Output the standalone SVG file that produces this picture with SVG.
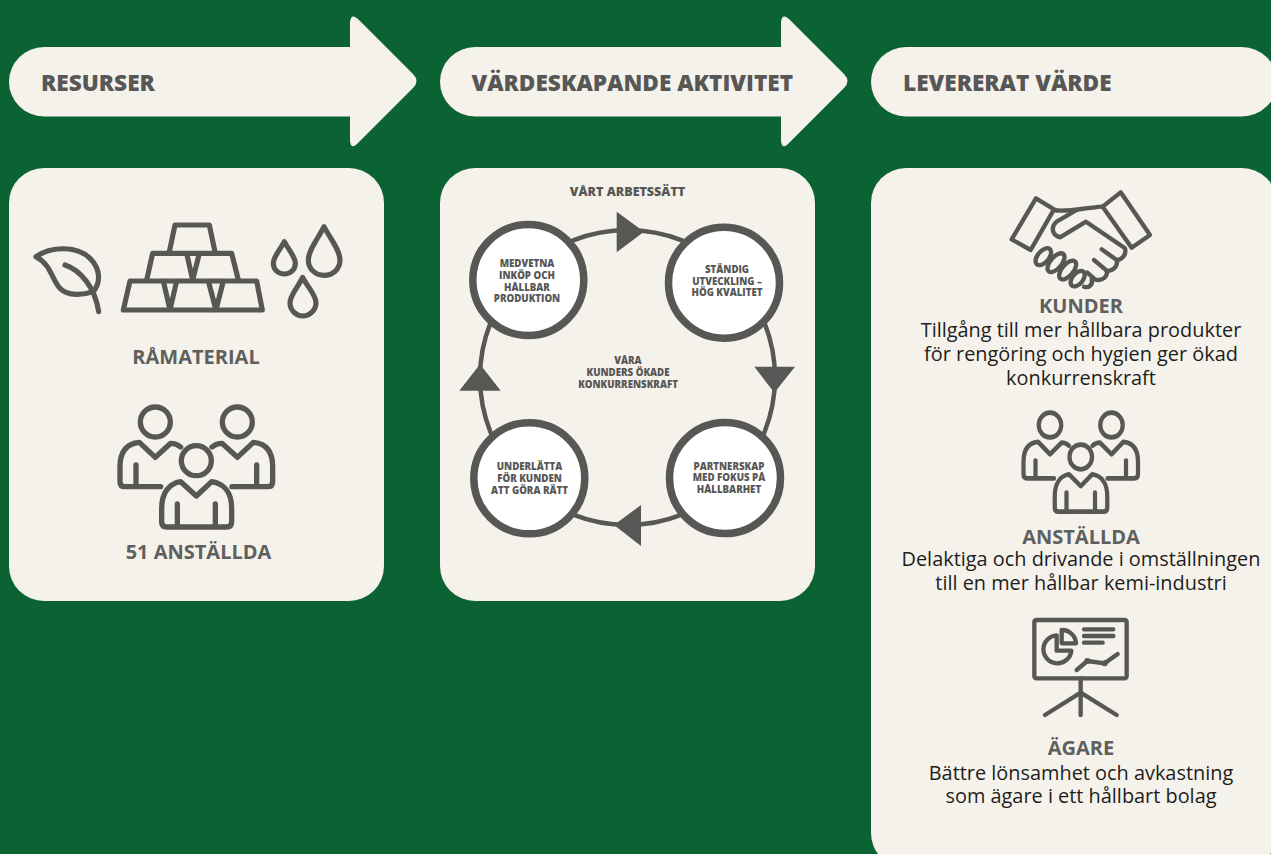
<svg xmlns="http://www.w3.org/2000/svg" width="1271" height="854" viewBox="0 0 1271 854">
<style>
text{font-family:"Open Sans","Noto Sans","Liberation Sans",sans-serif;fill:#575756;text-anchor:middle}
.head{font-size:22.600px;font-weight:800;text-anchor:start}
.lab{font-size:20px;font-weight:700;fill:#5f5f5e}
.body{font-size:19.900px;font-weight:400;fill:#1d1d1b}
.small{font-size:9.700px;font-weight:800}
.panel{fill:#f5f2eb}
.ico{fill:none;stroke:#575756;stroke-linecap:round;stroke-linejoin:round}
.node{fill:#fff;stroke:#575756;stroke-width:7.500}
.tri{fill:#575756}
</style>
<defs>
<path id="arrow" class="panel" d="M44 47H350V22Q351 12 359 20L413 74Q420 81 413 88L359 142Q351 151 350 141V116.500H44A35 34.750 0 0 1 44 47Z"/>
<g id="people">
<circle cx="436" cy="666" r="45"/><circle cx="682" cy="666" r="45"/><circle cx="559" cy="782" r="45"/>
<path d="M452 860H345Q330 860 330 845V800C330 750 355 730 388 727L436 772L482 730C495 730 505 735 512 741"/>
<path d="M378 795V858"/>
<path d="M666 860H773Q788 860 788 845V800C788 750 763 730 730 727L682 772L636 730C623 730 613 735 606 741"/>
<path d="M740 795V858"/>
<path d="M470 981Q455 981 455 966V925C455 875 480 850 512 845L559 888L605 845C640 850 665 875 665 925V966Q665 981 650 981Z"/>
<path d="M502 912V978M616 912V978"/>
</g>
</defs>
<rect width="1271" height="854" fill="#0b6232"/>
<g id="header-resurser"><use href="#arrow"/><text class="head" x="41" y="91">RESURSER</text></g>
<g id="header-aktivitet"><use href="#arrow" x="431"/><text class="head" x="471.500" y="91">VÄRDESKAPANDE AKTIVITET</text></g>
<g id="header-varde"><rect class="panel" x="871" y="47" width="406" height="69.500" rx="35"/><text class="head" x="903" y="91">LEVERERAT VÄRDE</text></g>

<g id="panel-resurser">
<rect class="panel" x="9" y="168" width="375" height="433" rx="35"/>
<g class="ico" transform="translate(10 200) scale(.33333)" stroke-width="15.500">
<path d="M78 170C120 140 200 135 240 175C275 210 270 250 250 275C220 285 175 290 150 265C125 240 125 195 78 170Z"/>
<path d="M165 195C210 210 255 260 266 335"/>
<path d="M478 155L495 75H598L615 155"/>
<path d="M410 240L428 160H665L685 240M530 160L548 240L568 160"/>
<path d="M340 330L360 243H740L757 330ZM460 243L480 330L500 243M595 243L618 330L640 243"/>
<path d="M942 80C925 115 895 150 895 180C895 210 920 226 942 226C965 226 990 210 990 180C990 150 960 115 942 80Z"/>
<path d="M823 125C810 150 790 170 790 190C790 210 806 222 823 222C840 222 856 210 856 190C856 170 836 150 823 125Z"/>
<path d="M878 232C865 260 840 285 840 308C840 332 860 348 878 348C897 348 918 332 918 308C918 285 892 260 878 232Z"/>
</g>
<text class="lab" x="196" y="364">RÅMATERIAL</text>
<use href="#people" class="ico" stroke-width="16" transform="translate(10 200) scale(.33333)"/>
<text class="lab" x="198.500" y="559">51 ANSTÄLLDA</text>
</g>

<g id="panel-aktivitet">
<rect class="panel" x="440" y="168" width="375" height="433" rx="35"/>
<text x="627.500" y="196" style="font-size:12.500px;font-weight:800">VÅRT ARBETSSÄTT</text>
</g>
<g id="connectors">
<circle cx="627.500" cy="377.500" r="147.500" fill="none" stroke="#575756" stroke-width="4.500"/>
<polygon class="tri" points="616.700,211.700 616.700,252.300 644,231.700"/>
<polygon class="tri" points="754.300,366.700 795,366.700 774.300,392.700"/>
<polygon class="tri" points="641,505 641,546 614,525"/>
<polygon class="tri" points="480,364.300 459.300,390.700 500.700,390.700"/>
</g>
<g id="node-inkop"><circle class="node" cx="528.300" cy="280" r="55.500"/>
<text class="small" x="527" y="267">MEDVETNA</text><text class="small" x="527" y="279">INKÖP OCH</text><text class="small" x="527" y="290.500">HÅLLBAR</text><text class="small" x="527" y="302">PRODUKTION</text></g>
<g id="node-utveckling"><circle class="node" cx="724" cy="282.700" r="55.500"/>
<text class="small" x="727" y="273">STÄNDIG</text><text class="small" x="727" y="284.500">UTVECKLING –</text><text class="small" x="727" y="296">HÖG KVALITET</text></g>
<g id="node-partnerskap"><circle class="node" cx="725" cy="478" r="55.500"/>
<text class="small" x="729" y="469.500">PARTNERSKAP</text><text class="small" x="729" y="481">MED FOKUS PÅ</text><text class="small" x="729" y="492.500">HÅLLBARHET</text></g>
<g id="node-underlatta"><circle class="node" cx="529.300" cy="478.300" r="55.500"/>
<text class="small" x="529.500" y="470">UNDERLÄTTA</text><text class="small" x="529.500" y="482">FÖR KUNDEN</text><text class="small" x="529.500" y="493.500">ATT GÖRA RÄTT</text></g>
<g id="node-center">
<text class="small" x="628" y="364">VÅRA</text><text class="small" x="628" y="376">KUNDERS ÖKADE</text><text class="small" x="628" y="387.500">KONKURRENSKRAFT</text></g>

<g id="panel-varde">
<rect class="panel" x="871" y="168" width="406" height="700" rx="35"/>
<g class="ico" transform="translate(980 180) scale(.33333)" stroke-width="13">
<path d="M168 55L222 88L152 210L95 178Z"/>
<path d="M422 37L510 165L455 203L368 80Z"/>
<path d="M222 90C260 97 300 85 368 80"/>
<path d="M290 90L230 125C212 140 215 165 240 172L318 125L435 205C440 225 425 240 410 240L365 208"/>
<path d="M410 240C415 262 395 275 380 272L342 240"/>
<path d="M380 272C385 290 365 305 345 298L322 278"/>
<ellipse cx="190" cy="230" rx="17" ry="30" transform="rotate(40 190 230)"/>
<ellipse cx="228" cy="248" rx="17" ry="34" transform="rotate(40 228 248)"/>
<ellipse cx="263" cy="270" rx="17" ry="34" transform="rotate(40 263 270)"/>
<ellipse cx="293" cy="296" rx="16" ry="27" transform="rotate(40 293 296)"/>
<path d="M335 298C340 315 325 325 312 320"/>
</g>
<text class="lab" x="1081" y="313">KUNDER</text>
<text class="body" x="1081" y="337">Tillgång till mer hållbara produkter</text>
<text class="body" x="1081" y="361">för rengöring och hygien ger ökad</text>
<text class="body" x="1081" y="385">konkurrenskraft</text>
<use href="#people" class="ico" stroke-width="17" transform="translate(941 241.900) scale(.25 .275)"/>
<text class="lab" x="1081" y="544">ANSTÄLLDA</text>
<text class="body" x="1081" y="566">Delaktiga och drivande i omställningen</text>
<text class="body" x="1081" y="590">till en mer hållbar kemi-industri</text>
<g class="ico" transform="translate(1010 610) scale(.33333)" stroke-width="13">
<rect x="73" y="30" width="277" height="175" rx="6"/>
<path d="M222 58H310M222 78H310M222 98H278"/>
<path d="M140 76A42 42 0 1 0 184 122L140 122Z"/>
<path d="M155 60V100H198A42 42 0 0 0 155 60Z"/>
<path d="M200 180L232 153L284 160L323 132"/>
<path d="M212 205V315M105 315L212 248L320 315"/>
</g>
<circle cx="1087.300" cy="661" r="3" fill="#575756"/><circle cx="1104.700" cy="663.300" r="3" fill="#575756"/>
<text class="lab" x="1081" y="755">ÄGARE</text>
<text class="body" x="1081" y="780">Bättre lönsamhet och avkastning</text>
<text class="body" x="1081" y="803">som ägare i ett hållbart bolag</text>
</g>
</svg>
